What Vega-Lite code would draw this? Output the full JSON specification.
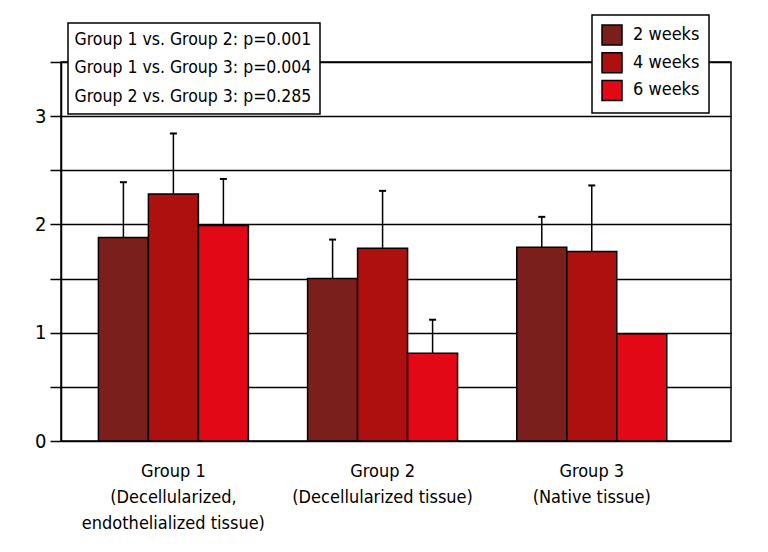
{
  "$schema": "https://vega.github.io/schema/vega-lite/v6.json",
  "width": 670,
  "height": 379,
  "autosize": {"type": "none"},
  "padding": {"left": 61, "top": 62, "right": 37, "bottom": 111},
  "background": "white",
  "config": {
    "font": "'DejaVu Sans Condensed', sans-serif",
    "view": {"stroke": "black", "strokeWidth": 1.5},
    "axis": {"labelColor": "black", "labelFont": "'DejaVu Sans Condensed', sans-serif"},
    "legend": {"strokeWidth": 1.5, "labelFont": "'DejaVu Sans Condensed', sans-serif"}
  },
  "datasets": {
    "bars": [
      {"group": "Group 1|(Decellularized,|endothelialized tissue)", "time": "2 weeks", "value": 1.88, "upper": 2.39},
      {"group": "Group 1|(Decellularized,|endothelialized tissue)", "time": "4 weeks", "value": 2.28, "upper": 2.84},
      {"group": "Group 1|(Decellularized,|endothelialized tissue)", "time": "6 weeks", "value": 1.99, "upper": 2.42},
      {"group": "Group 2|(Decellularized tissue)", "time": "2 weeks", "value": 1.50, "upper": 1.86},
      {"group": "Group 2|(Decellularized tissue)", "time": "4 weeks", "value": 1.78, "upper": 2.31},
      {"group": "Group 2|(Decellularized tissue)", "time": "6 weeks", "value": 0.81, "upper": 1.12},
      {"group": "Group 3|(Native tissue)", "time": "2 weeks", "value": 1.79, "upper": 2.07},
      {"group": "Group 3|(Native tissue)", "time": "4 weeks", "value": 1.75, "upper": 2.36},
      {"group": "Group 3|(Native tissue)", "time": "6 weeks", "value": 0.99, "upper": null}
    ],
    "comparisons": [
      {"comparison": "Group 1 vs. Group 2: p=0.001"},
      {"comparison": "Group 1 vs. Group 3: p=0.004"},
      {"comparison": "Group 2 vs. Group 3: p=0.285"}
    ]
  },
  "layer": [
    {
      "data": {"name": "bars"},
      "mark": {"type": "bar", "stroke": "black", "strokeWidth": 1.5},
      "encoding": {
        "x": {
          "field": "group", "type": "nominal", "sort": null,
          "scale": {"paddingInner": 0.283, "paddingOuter": 0.243, "align": 0.368},
          "axis": {
            "title": null, "domain": false, "ticks": false, "labelAngle": 0,
            "labelExpr": "split(datum.label, '|')",
            "labelFontSize": 18, "labelLineHeight": 26, "labelPadding": 21,
            "labelBaseline": "top", "labelLimit": 300
          }
        },
        "xOffset": {"field": "time", "type": "nominal", "scale": {"paddingInner": 0, "paddingOuter": 0}},
        "y": {
          "field": "value", "type": "quantitative",
          "scale": {"domain": [0, 3.5], "nice": false, "zero": true},
          "axis": {
            "title": null,
            "values": [0, 0.5, 1, 1.5, 2, 2.5, 3, 3.5],
            "labelExpr": "datum.value % 1 === 0 ? format(datum.value, 'd') : ''",
            "labelFontSize": 20, "labelPadding": 4,
            "tickSize": 11, "tickColor": "black", "tickWidth": 1.5,
            "domainColor": "black", "domainWidth": 1.5,
            "grid": true, "gridColor": "black", "gridWidth": 1.5, "gridOpacity": 1
          }
        },
        "fill": {
          "field": "time", "type": "nominal",
          "scale": {"domain": ["2 weeks", "4 weeks", "6 weeks"], "range": ["#7b1f1c", "#ad100e", "#e30816"]},
          "legend": {
            "title": null, "orient": "none", "legendX": 531, "legendY": -47,
            "fillColor": "white", "strokeColor": "black", "padding": 9,
            "symbolType": "square", "symbolSize": 400, "symbolStrokeColor": "black", "symbolStrokeWidth": 1.5,
            "symbolOpacity": 1, "labelFontSize": 18, "labelOffset": 10, "rowPadding": 1.7, "labelColor": "black"
          }
        }
      }
    },
    {
      "data": {"name": "bars"},
      "transform": [{"filter": "datum.upper != null"}],
      "mark": {"type": "rule", "color": "black", "strokeWidth": 1.5},
      "encoding": {
        "x": {"field": "group", "type": "nominal", "sort": null},
        "xOffset": {"field": "time", "type": "nominal"},
        "y": {"field": "value", "type": "quantitative"},
        "y2": {"field": "upper"}
      }
    },
    {
      "data": {"name": "bars"},
      "transform": [{"filter": "datum.upper != null"}],
      "mark": {"type": "tick", "color": "black", "thickness": 2, "size": 7, "opacity": 1},
      "encoding": {
        "x": {"field": "group", "type": "nominal", "sort": null},
        "xOffset": {"field": "time", "type": "nominal"},
        "y": {"field": "upper", "type": "quantitative"}
      }
    },
    {
      "data": {"name": "comparisons"},
      "mark": {"type": "point", "opacity": 0},
      "encoding": {
        "shape": {
          "field": "comparison", "type": "nominal", "sort": null,
          "legend": {
            "title": null, "orient": "none", "legendX": 7, "legendY": -39,
            "fillColor": "white", "strokeColor": "black", "padding": 8,
            "symbolSize": 0, "symbolOpacity": 0, "labelOffset": -19,
            "labelFontSize": 17.5, "rowPadding": 9.5, "labelColor": "black", "labelLimit": 400
          }
        }
      }
    }
  ]
}
